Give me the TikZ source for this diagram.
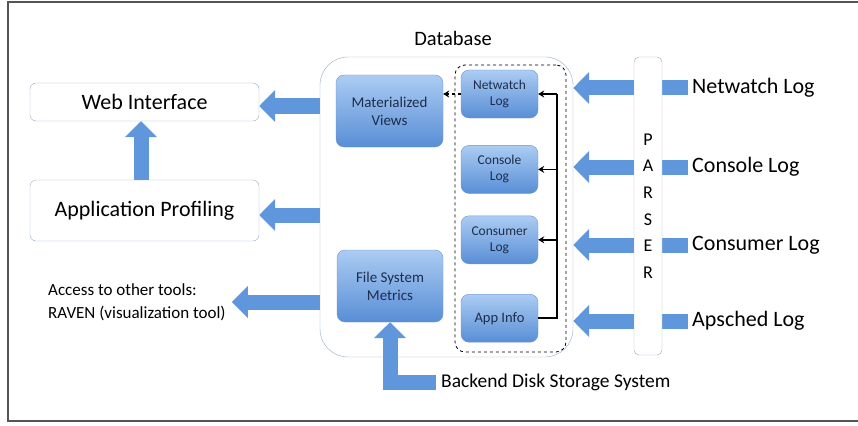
\documentclass[tikz,border=0pt]{standalone}
\usepackage{fontspec}
\setmainfont{Carlito}
\usepackage{xcolor}
\usepackage{tikz}
\usetikzlibrary{arrows.meta, positioning, calc}
\definecolor{framegray}{RGB}{85,85,85}
\definecolor{paleedge}{RGB}{150,172,200}
\definecolor{boxtop}{RGB}{172,204,243}
\definecolor{boxbottom}{RGB}{88,142,214}
\definecolor{boxedge}{RGB}{110,150,205}
\definecolor{boxtext}{RGB}{30,45,75}
\definecolor{arrowblue}{RGB}{96,150,220}
\tikzset{
    whitebox/.style={
        rectangle,
        rounded corners=6pt,
        draw=paleedge,
        fill=white,
        text centered,
        font=\fontsize{22}{26}\selectfont
    },
    bluebox/.style={
        rectangle,
        rounded corners=8pt,
        draw=boxedge,
        top color=boxtop,
        bottom color=boxbottom,
        text=boxtext,
        align=center,
        font=\fontsize{15}{18}\selectfont
    },
    logbox/.style={
        bluebox,
        minimum width=77pt,
        minimum height=48pt,
        font=\fontsize{13.5}{16}\selectfont
    },
    srclabel/.style={
        anchor=west,
        inner sep=4pt,
        font=\fontsize{22}{26}\selectfont
    },
    bigarrow/.style={
        draw=arrowblue,
        line width=15pt,
        line join=miter,
        -{Triangle[width=31pt,length=16pt]}
    },
    tap/.style={
        draw=black,
        line width=1.6pt,
        -{Stealth[length=6pt,width=7pt]}
    },
    viewlink/.style={
        draw=black,
        line width=1.3pt,
        dashed,
        -{Stealth[length=6pt,width=7pt]}
    }
}
\begin{document}
\begin{tikzpicture}[x=1pt, y=-1pt]
\useasboundingbox (0,0) rectangle (858,425);

% Frame
\draw[framegray, line width=1.5pt] (858,2) -- (8,2) -- (8,421) -- (858,421);

% Front end
\node[whitebox, minimum width=229pt, minimum height=38pt] (webif) at (144.5,102) {Web Interface};
\node[whitebox, minimum width=229pt, minimum height=61pt] (appprof) at (144.5,210.5) {Application Profiling};
\node[anchor=west, align=left, inner sep=6pt, font=\fontsize{17}{23}\selectfont] (access) at (42,302) {Access to other tools:\\RAVEN (visualization tool)};

% Database
\node[rectangle, rounded corners=28pt, draw=paleedge, minimum width=253pt, minimum height=300pt] (database) at (446.5,207) {};
\node[font=\fontsize{20.5}{24}\selectfont] (dblabel) at (453,38) {Database};
\node[bluebox, minimum width=107pt, minimum height=72pt] (matviews) at (389.5,111) {Materialized\\Views};
\node[bluebox, minimum width=106pt, minimum height=72pt] (fsmetrics) at (390,286) {File System\\Metrics};

% Log tables
\node[rectangle, rounded corners=10pt, draw=black, thick, dashed, minimum width=111pt, minimum height=287pt] (logarea) at (510.5,208.5) {};
\node[logbox] (netwatch) at (499.5,94) {Netwatch\\Log};
\node[logbox, below=27pt of netwatch] (console) {Console\\Log};
\node[logbox, below=22pt of console] (consumer) {Consumer\\Log};
\node[logbox, below=30pt of consumer, font=\fontsize{14.5}{17}\selectfont] (appinfo) {App Info};
\coordinate (bus) at (557,0);

% Connections - inside database
\draw[black, line width=1.6pt] (appinfo.east) -| (bus |- netwatch.east);
\draw[tap] (bus |- netwatch.east) -- (netwatch.east);
\draw[tap] (bus |- console.east) -- (console.east);
\draw[tap] (bus |- consumer.east) -- (consumer.east);
\draw[viewlink] (netwatch.west) -- (netwatch.west -| matviews.east);

% Log sources
\node[srclabel] (netsrc) at (688,88) {Netwatch Log};
\node[srclabel] (consrc) at (688,167) {Console Log};
\node[srclabel] (cumsrc) at (688,245) {Consumer Log};
\node[srclabel] (apssrc) at (688,321) {Apsched Log};
\node[anchor=west, inner sep=5pt, font=\fontsize{19.5}{23}\selectfont] (backend) at (436,382) {Backend Disk Storage System};

% Connections - data flow
\foreach \src in {netsrc, consrc, cumsrc, apssrc}
    \draw[bigarrow] (\src.west) -- (database.east |- \src.west);
\draw[bigarrow] (database.west |- 0,106) -- (webif.east |- 0,106);
\draw[bigarrow] (database.west |- 0,215) -- (appprof.east |- 0,215);
\draw[bigarrow] (database.west |- access.east) -- (access.east);
\draw[bigarrow] (appprof.north -| 141,0) -- (webif.south -| 141,0);
\draw[bigarrow] (backend.west) -| (fsmetrics.south);

% Parser
\node[rectangle, rounded corners=5pt, draw=paleedge, fill=white, minimum width=28pt, minimum height=298pt, align=center, font=\fontsize{18}{26.6}\selectfont] (parser) at (648,206) {P\\A\\R\\S\\E\\R};

\end{tikzpicture}
\end{document}
